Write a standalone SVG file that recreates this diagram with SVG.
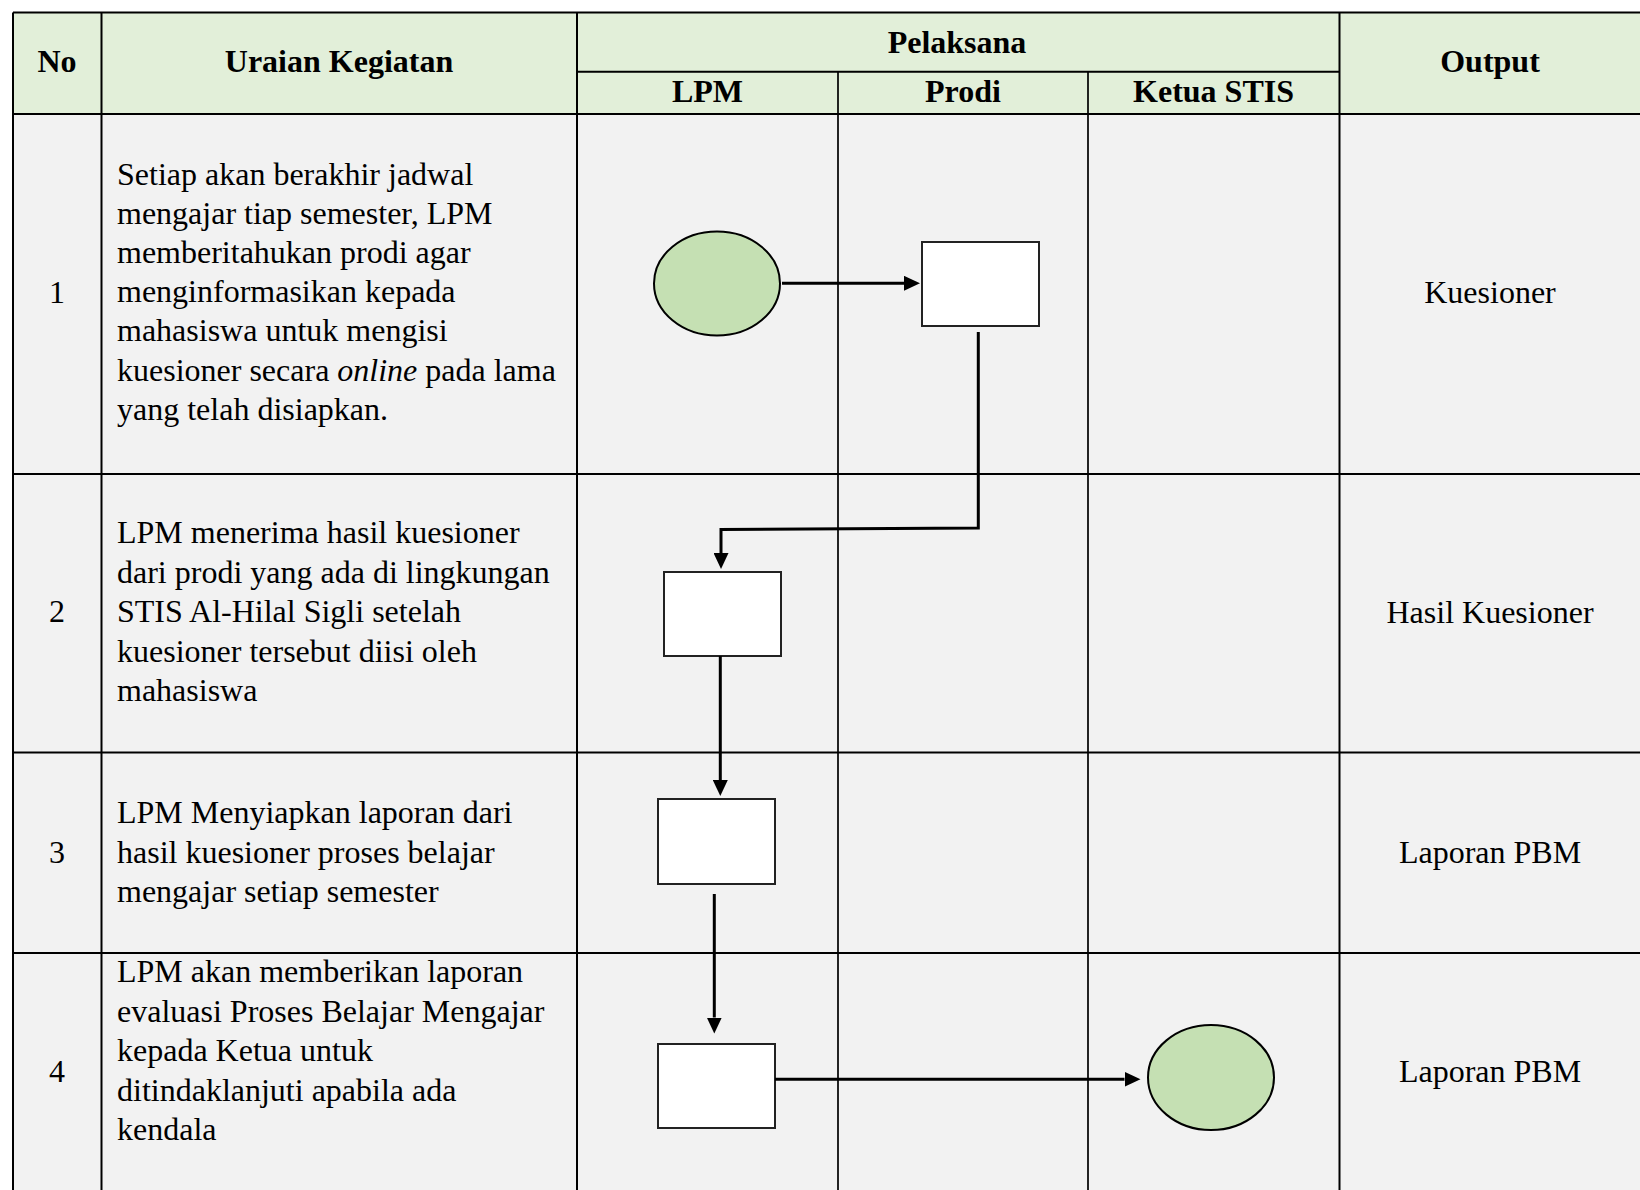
<svg xmlns="http://www.w3.org/2000/svg" width="1640" height="1190" viewBox="0 0 1640 1190">
<style>
  .t { font-family: "Liberation Serif", "Times New Roman", serif; font-size: 32px; fill: #000; }
  .h { font-family: "Liberation Serif", "Times New Roman", serif; font-size: 32px; font-weight: bold; fill: #000; text-anchor: middle; }
  .c { text-anchor: middle; }
  .grid { stroke: #000; stroke-width: 2; fill: none; }
  .lane { stroke: #000; stroke-width: 1.7; fill: none; }
  .box { fill: #fff; stroke: #222; stroke-width: 2; }
  .term { fill: #C5E0B3; stroke: #000; stroke-width: 2; }
  .conn { fill: none; stroke: #000; stroke-width: 3; }
</style>
<defs>
  <marker id="arrow" markerUnits="userSpaceOnUse" markerWidth="16" markerHeight="15" refX="0" refY="7.5" orient="auto">
    <path d="M0,0 L16,7.5 L0,15 z" fill="#000"/>
  </marker>
</defs>
<rect x="0" y="0" width="1640" height="1190" fill="#fff"/>
<g id="table">
  <rect x="13" y="12.5" width="1640" height="101.5" fill="#E2EFD9"/>
  <rect x="13" y="114" width="1640" height="1090" fill="#F2F2F2"/>
  <path class="grid" d="M13,12.5 H1645 M13,12.5 V1195 M101.5,12.5 V1195 M577,12.5 V1195 M1339.5,12.5 V1195 M577,71.7 H1339.5 M13,114 H1645 M13,474 H1645 M13,752.5 H1645 M13,953 H1645"/>
  <path class="lane" d="M838,71.7 V1195 M1088,71.7 V1195"/>
</g>
<g id="headers">
  <text class="h" x="57" y="71.7">No</text>
  <text class="h" x="339" y="71.7">Uraian Kegiatan</text>
  <text class="h" x="957" y="53.3">Pelaksana</text>
  <text class="h" x="707.5" y="101.7">LPM</text>
  <text class="h" x="963" y="101.7">Prodi</text>
  <text class="h" x="1213.5" y="101.7">Ketua STIS</text>
  <text class="h" x="1490" y="71.7">Output</text>
</g>
<g id="row1">
  <text class="t c" x="57" y="303.3">1</text>
  <text class="t" x="117" y="184.8">Setiap akan berakhir jadwal</text>
  <text class="t" x="117" y="223.8">mengajar tiap semester, LPM</text>
  <text class="t" x="117" y="262.8">memberitahukan prodi agar</text>
  <text class="t" x="117" y="302.1">menginformasikan kepada</text>
  <text class="t" x="117" y="341.3">mahasiswa untuk mengisi</text>
  <text class="t" x="117" y="380.5">kuesioner secara <tspan font-style="italic">online</tspan> pada lama</text>
  <text class="t" x="117" y="419.7">yang telah disiapkan.</text>
  <text class="t c" x="1490" y="303.3">Kuesioner</text>
</g>
<g id="row2">
  <text class="t c" x="57" y="622.3">2</text>
  <text class="t" x="117" y="543.3">LPM menerima hasil kuesioner</text>
  <text class="t" x="117" y="582.8">dari prodi yang ada di lingkungan</text>
  <text class="t" x="117" y="622.3">STIS Al-Hilal Sigli setelah</text>
  <text class="t" x="117" y="661.7">kuesioner tersebut diisi oleh</text>
  <text class="t" x="117" y="701">mahasiswa</text>
  <text class="t c" x="1490" y="622.7">Hasil Kuesioner</text>
</g>
<g id="row3">
  <text class="t c" x="57" y="862.7">3</text>
  <text class="t" x="117" y="823.3">LPM Menyiapkan laporan dari</text>
  <text class="t" x="117" y="862.7">hasil kuesioner proses belajar</text>
  <text class="t" x="117" y="901.9">mengajar setiap semester</text>
  <text class="t c" x="1490" y="862.7">Laporan PBM</text>
</g>
<g id="row4">
  <text class="t c" x="57" y="1081.7">4</text>
  <text class="t" x="117" y="982.3">LPM akan memberikan laporan</text>
  <text class="t" x="117" y="1021.7">evaluasi Proses Belajar Mengajar</text>
  <text class="t" x="117" y="1061.2">kepada Ketua untuk</text>
  <text class="t" x="117" y="1100.8">ditindaklanjuti apabila ada</text>
  <text class="t" x="117" y="1140.4">kendala</text>
  <text class="t c" x="1490" y="1082.3">Laporan PBM</text>
</g>
<g id="start"><ellipse class="term" cx="717" cy="283.5" rx="63" ry="52"/></g>
<g id="prodi-inform"><rect class="box" x="922" y="242" width="117" height="84"/></g>
<g id="lpm-receive"><rect class="box" x="664" y="572" width="117" height="84"/></g>
<g id="lpm-report"><rect class="box" x="658" y="799" width="117" height="85"/></g>
<g id="lpm-submit"><rect class="box" x="658" y="1044" width="117" height="84"/></g>
<g id="end"><ellipse class="term" cx="1211" cy="1077.5" rx="63" ry="52.5"/></g>
<g id="connectors">
  <path class="conn" d="M782,283.3 H904" marker-end="url(#arrow)"/>
  <path class="conn" d="M978.3,332 V528 L721,529.5 V553" marker-end="url(#arrow)"/>
  <path class="conn" d="M720.3,656 V780" marker-end="url(#arrow)"/>
  <path class="conn" d="M714.3,894 V1017.5" marker-end="url(#arrow)"/>
  <path class="conn" d="M775,1079.3 H1124.5" marker-end="url(#arrow)"/>
</g>
</svg>
